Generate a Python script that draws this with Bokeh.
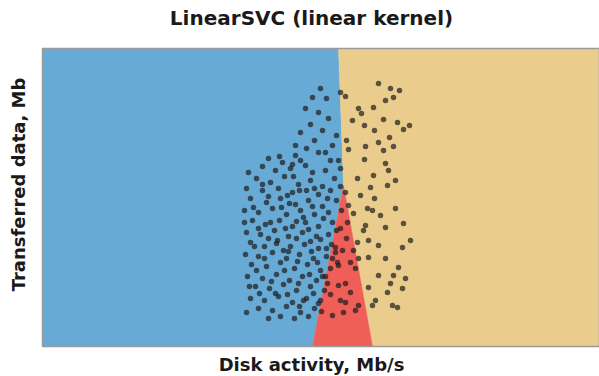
import math
from bokeh.plotting import figure
from bokeh.models import Range1d, Label
from bokeh.embed import file_html
from bokeh.resources import INLINE

# ---- decision regions (data units: disk activity / transferred data) ----
region_blue_x = [0, 270, 301, 296, 0]
region_blue_y = [0, 0, 161, 298, 298]
region_red_x = [270, 330, 301]
region_red_y = [0, 0, 161]
region_tan_x = [330, 557, 557, 296, 301]
region_tan_y = [0, 0, 298, 298, 161]

# ---- samples, class A (left cluster) ----
blue_x = [278, 270, 284, 263, 276, 286, 268, 280, 272, 290, 264, 283, 294, 258, 253,
          226, 240, 253, 263, 276, 288, 298, 233, 248, 270, 283, 258, 220, 206,
          214, 228, 242, 256, 268, 280, 292, 204, 220, 236, 250, 264, 276, 288, 298,
          208, 224, 238, 253, 266, 280, 294, 202, 216, 230, 244, 258, 272, 286, 299,
          210, 223, 237, 250, 263, 276, 290, 204, 218, 232, 246, 260, 274, 286,
          208, 222, 235, 248, 262, 276, 289, 203, 216, 230, 244, 257, 271, 284,
          209, 224, 238, 252, 265, 278, 205, 220, 234, 247, 260, 274, 288,
          213, 227, 241, 254, 268, 282, 208, 222, 236, 250, 264, 278,
          216, 230, 244, 258, 272, 204, 238, 252, 266, 226,
          245, 261, 234, 269, 242, 256, 228, 254, 270, 239, 251, 266, 222, 278, 246,
          233, 261, 216, 285, 275, 243, 257, 226, 212, 267,
          220, 272, 247, 285, 211, 254, 281, 226, 268, 241, 293, 214, 255, 283, 229,
          271, 245, 217, 257, 279, 202, 207, 294, 250, 237]
blue_y = [258, 249, 248, 238, 234, 228, 222, 216, 206, 201, 198, 194, 211, 214, 201,
          188, 184, 191, 181, 194, 186, 178, 176, 178, 174, 176, 186, 180, 174,
          168, 164, 170, 162, 166, 160, 168, 158, 156, 158, 154, 156, 152, 156, 160,
          148, 144, 148, 142, 146, 140, 146, 136, 134, 138, 132, 136, 132, 134, 136,
          126, 122, 126, 120, 124, 120, 124, 114, 112, 116, 110, 114, 110, 112,
          104, 100, 106, 100, 102, 98, 102, 92, 90, 94, 88, 92, 88, 90,
          82, 80, 84, 78, 82, 76, 70, 68, 72, 66, 70, 66, 78,
          60, 58, 62, 56, 60, 56, 48, 46, 50, 44, 48, 46,
          38, 36, 40, 34, 38, 34, 30, 28, 30, 28,
          151, 129, 103, 95, 76, 63, 124, 108, 140, 139, 170, 117, 88, 107, 95,
          53, 46, 118, 63, 84, 118, 156, 150, 100, 72,
          162, 158, 143, 148, 139, 125, 128, 108, 105, 96, 94, 76, 85, 70, 65,
          53, 52, 53, 40, 35, 124, 60, 116, 182, 190]

# ---- samples, class B (right cluster) ----
tan_x = [336, 348, 357, 351, 303, 316, 319, 331, 341, 355, 361, 322, 332, 347, 336,
         304, 306, 323, 341, 351, 296, 322, 343, 346, 331, 315, 345, 328, 318, 332,
         325, 353, 311, 330, 361, 343, 321, 303, 306, 305, 326, 336, 360, 315, 293,
         343, 326, 356, 336, 351, 363, 313, 326, 360, 345, 333, 350, 355, 330, 316,
         296, 296, 303, 290, 311, 367, 310, 298, 343, 353, 338, 316, 348, 368, 323]
tan_y = [263, 258, 256, 249, 250, 238, 233, 239, 227, 224, 217, 221, 216, 209, 204,
         206, 197, 200, 196, 200, 186, 187, 183, 176, 171, 168, 161, 159, 151, 148,
         138, 138, 133, 136, 123, 119, 116, 154, 141, 124, 106, 101, 99, 104, 99,
         88, 89, 79, 71, 71, 68, 78, 59, 58, 54, 46, 41, 39, 41, 41,
         81, 61, 44, 88, 96, 221, 226, 254, 246, 166, 131, 88, 63, 106, 121]

# ---- samples, class C (middle) ----
red_x = [298, 284, 295, 280, 303, 288, 298, 276, 308, 301, 290, 313, 300, 308, 304]
red_y = [118, 98, 84, 70, 63, 52, 46, 43, 54, 34, 31, 36, 96, 84, 108]

title_text = "LinearSVC (linear kernel)"
xlabel_text = "Disk activity, Mb/s"
ylabel_text = "Transferred data, Mb"

# the whole canvas is the frame; the plotting box occupies data 0..557 x 0..298
p = figure(width=599, height=376, x_range=Range1d(-42, 557), y_range=Range1d(-30, 346),
           output_backend="svg", toolbar_location=None, title=None,
           min_border_left=0, min_border_right=0, min_border_top=0, min_border_bottom=0)
p.xaxis.visible = False
p.yaxis.visible = False
p.grid.visible = False
p.outline_line_color = None
p.background_fill_color = "white"
p.border_fill_color = "white"

BLUE = "#68aad6"
TAN = "#eacd8c"
RED = "#f05e58"
p.patch(region_blue_x, region_blue_y, fill_color=BLUE, line_color=BLUE, line_width=0.5)
p.patch(region_tan_x, region_tan_y, fill_color=TAN, line_color=TAN, line_width=0.5)
p.patch(region_red_x, region_red_y, fill_color=RED, line_color=RED, line_width=0.5)

# box border
p.quad(left=min(region_blue_x), right=max(region_tan_x), bottom=min(region_blue_y),
       top=max(region_blue_y), fill_color=None, line_color="#9a9a9a", line_width=1.5)

for xs, ys in ((blue_x, blue_y), (tan_x, tan_y), (red_x, red_y)):
    p.scatter(xs, ys, size=5.5, fill_color="#1c1c1c", fill_alpha=0.7, line_color=None)

font = "DejaVu Sans"
p.add_layout(Label(x=269, y=329, text=title_text, text_align="center",
                   text_baseline="middle", text_font=font, text_font_style="bold",
                   text_font_size="20px", text_color="#1a1a1a"))
p.add_layout(Label(x=269, y=-18, text=xlabel_text, text_align="center",
                   text_baseline="middle", text_font=font, text_font_style="bold",
                   text_font_size="18px", text_color="#1a1a1a"))
p.add_layout(Label(x=-24, y=162, text=ylabel_text, angle=math.pi / 2,
                   text_align="center", text_baseline="middle", text_font=font,
                   text_font_style="bold", text_font_size="18px", text_color="#1a1a1a"))

open("out.html", "w").write(file_html(p, INLINE))
